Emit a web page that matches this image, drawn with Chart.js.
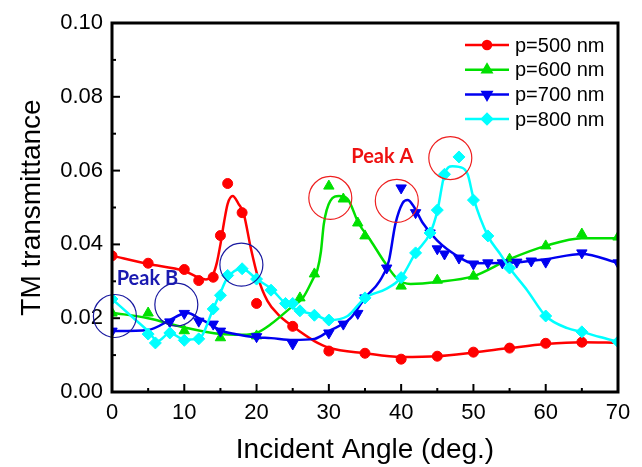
<!DOCTYPE html>
<html>
<head>
<meta charset="utf-8">
<script src="https://cdn.jsdelivr.net/npm/chart.js@4.4.0/dist/chart.umd.min.js"></script>
<style>
html, body { margin: 0; padding: 0; background: #fff; }
#wrap { width: 642px; height: 467px; }
</style>
</head>
<body>
<div id="wrap"><canvas id="myChart" width="642" height="467"></canvas></div>
<script>
'use strict'

// measured points (markers)
const ang500 = [0, 5, 10, 12, 14, 15, 16, 18, 20, 25, 30, 35, 40, 45, 50, 55, 60, 65];
const tm500 = [0.0369, 0.0349, 0.0332, 0.0302, 0.0311, 0.0424, 0.0565, 0.0486, 0.024, 0.0178, 0.0111, 0.0105, 0.0089, 0.0097, 0.0108, 0.0119, 0.0132, 0.0135];

const ang600 = [0, 5, 10, 15, 20, 26, 28, 30, 32, 34, 35, 40, 45, 50, 55, 60, 65, 70];
const tm600 = [0.0214, 0.0214, 0.0166, 0.0147, 0.0152, 0.0255, 0.032, 0.0558, 0.0523, 0.0458, 0.0423, 0.0287, 0.0303, 0.0314, 0.036, 0.0396, 0.0428, 0.042];

const ang700 = [0, 8, 10, 12, 14, 15, 20, 25, 30, 32, 34, 35, 38, 40, 42, 44, 45, 46, 48, 50, 52, 54, 56, 58, 60, 65, 70];
const tm700 = [0.0165, 0.019, 0.0213, 0.0192, 0.0184, 0.0165, 0.015, 0.013, 0.016, 0.0184, 0.0213, 0.0255, 0.0336, 0.0553, 0.0486, 0.0431, 0.0388, 0.0374, 0.0363, 0.0347, 0.035, 0.035, 0.0352, 0.0355, 0.0352, 0.0377, 0.035];

const ang800 = [0, 5, 6, 8, 10, 12, 14, 15, 16, 18, 20, 22, 24, 25, 26, 28, 30, 35, 40, 42, 44, 45, 46, 48, 50, 52, 55, 60, 65, 70];
const tm800 = [0.0252, 0.0157, 0.0133, 0.016, 0.014, 0.0144, 0.0225, 0.0262, 0.0316, 0.0334, 0.0306, 0.0276, 0.024, 0.024, 0.022, 0.0208, 0.0195, 0.0255, 0.031, 0.0377, 0.0431, 0.0493, 0.059, 0.0637, 0.052, 0.0423, 0.0336, 0.0206, 0.0163, 0.0136];

// fitted curves
const fitAng500 = [0, 5, 10, 12, 13, 14, 14.5, 15, 15.5, 16, 16.7, 17.5, 18.2, 19.2, 20.2, 21.5, 23, 25, 28, 30, 35, 40, 45, 50, 55, 60, 65, 70];
const fit500 = [0.0369, 0.0347, 0.0328, 0.031, 0.0305, 0.032, 0.035, 0.040, 0.046, 0.051, 0.0531, 0.051, 0.0485, 0.039, 0.031, 0.0247, 0.021, 0.0178, 0.0138, 0.012, 0.0105, 0.0095, 0.0097, 0.0107, 0.0119, 0.013, 0.0135, 0.0133];

const fitAng600 = [0, 5, 10, 15, 18, 20, 22, 24.7, 26.4, 27.9, 28.4, 28.9, 29.3, 30.2, 31.4, 32.6, 34.1, 35.8, 37.6, 39.5, 41.3, 45, 50, 55, 60, 65, 70];
const fit600 = [0.0215, 0.020, 0.0175, 0.0157, 0.0155, 0.016, 0.0184, 0.0228, 0.0255, 0.031, 0.033, 0.038, 0.0455, 0.0518, 0.0531, 0.0523, 0.0458, 0.041, 0.0355, 0.0306, 0.0293, 0.0298, 0.0314, 0.036, 0.0396, 0.0417, 0.0417];

const fitAng700 = [0, 5, 8, 9.5, 10.5, 12, 13, 15, 17, 20, 22, 25, 28, 30, 33, 35, 37, 38.3, 39.2, 40.2, 40.9, 41.7, 43, 45, 47.8, 50, 55, 60, 65, 70];
const fit700 = [0.0165, 0.0168, 0.0195, 0.021, 0.0214, 0.020, 0.019, 0.0167, 0.0157, 0.0148, 0.0146, 0.0141, 0.0144, 0.0165, 0.020, 0.0255, 0.030, 0.0355, 0.0455, 0.0512, 0.052, 0.0504, 0.0458, 0.041, 0.0368, 0.0349, 0.035, 0.036, 0.0374, 0.035];

const fitAng800 = [0, 3, 5, 6.3, 8, 10, 12, 14, 15, 16, 18, 20, 22, 24, 26, 28, 30, 32.6, 35, 38, 40, 42, 44, 45, 46, 47.1, 48, 49.2, 50, 52, 53.7, 55, 57.5, 60, 63, 65, 67.5, 70];
const fit800 = [0.0252, 0.020, 0.0165, 0.0138, 0.016, 0.0142, 0.0144, 0.0225, 0.027, 0.031, 0.0334, 0.0306, 0.028, 0.024, 0.022, 0.021, 0.0195, 0.0206, 0.0255, 0.028, 0.031, 0.0377, 0.043, 0.049, 0.059, 0.0612, 0.061, 0.059, 0.0526, 0.0423, 0.0374, 0.0336, 0.0274, 0.0206, 0.0173, 0.0163, 0.0149, 0.0136];

// circled peaks
const peakBAng = [0.4, 8.9, 17.9];
const peakBTm = [0.0206, 0.0237, 0.0345];
const peakAAng = [30.2, 39.4, 46.8];
const peakATm = [0.0526, 0.0518, 0.0634];

const seriesNames = ['p=500 nm', 'p=600 nm', 'p=700 nm', 'p=800 nm'];
const xTickLabels = [0, 10, 20, 30, 40, 50, 60, 70];
const yTickLabels = ['0.00', '0.02', '0.04', '0.06', '0.08', '0.10'];

const colors = ['#ff0000', '#00e000', '#0000f0', '#00ffff'];
const shapes = [
  { style: 'circle', rot: 0, r: 5 },
  { style: 'triangle', rot: 0, r: 6 },
  { style: 'triangle', rot: 180, r: 6 },
  { style: 'rectRot', rot: 0, r: 6 }
];
const FONT = "'Liberation Sans', Arial, sans-serif";

function pairs(xs, ys) {
  return xs.map((x, i) => ({ x: x, y: ys[i] }));
}

const markAng = [ang500, ang600, ang700, ang800];
const markTm = [tm500, tm600, tm700, tm800];
const fitAng = [fitAng500, fitAng600, fitAng700, fitAng800];
const fitTm = [fit500, fit600, fit700, fit800];

let datasets = [];
for (let i = 0; i < 4; i++) {
  datasets.push({
    label: seriesNames[i],
    data: pairs(fitAng[i], fitTm[i]),
    showLine: true,
    borderColor: colors[i],
    borderWidth: 2.5,
    pointRadius: 0,
    cubicInterpolationMode: 'monotone',
    order: 20 - i * 2
  });
  datasets.push({
    label: seriesNames[i] + ' pts',
    data: pairs(markAng[i], markTm[i]),
    showLine: false,
    backgroundColor: colors[i],
    borderColor: colors[i],
    borderWidth: 1,
    pointStyle: shapes[i].style,
    rotation: shapes[i].rot,
    pointRadius: shapes[i].r,
    clip: 0,
    order: 19 - i * 2
  });
}
datasets.push({
  label: 'peak B',
  data: pairs(peakBAng, peakBTm),
  showLine: false,
  backgroundColor: 'rgba(0,0,0,0)',
  borderColor: '#1a1aa0',
  borderWidth: 1.2,
  pointRadius: 21.5,
  clip: false,
  order: 1
});
datasets.push({
  label: 'peak A',
  data: pairs(peakAAng, peakATm),
  showLine: false,
  backgroundColor: 'rgba(0,0,0,0)',
  borderColor: '#ee2020',
  borderWidth: 1.2,
  pointRadius: 21.5,
  clip: false,
  order: 0
});

// frame, inward ticks, legend, peak labels
const decor = {
  id: 'decor',
  afterDraw(chart) {
    const ctx = chart.ctx;
    const a = chart.chartArea;
    const xs = chart.scales.x;
    const ys = chart.scales.y;
    ctx.save();
    ctx.strokeStyle = '#000';
    ctx.lineWidth = 2;
    xs.ticks.forEach(t => {
      const px = xs.getPixelForValue(t.value);
      const len = t.label !== '' ? 8 : 4;
      ctx.beginPath();
      ctx.moveTo(px, a.bottom);
      ctx.lineTo(px, a.bottom - len);
      ctx.stroke();
    });
    ys.ticks.forEach(t => {
      const py = ys.getPixelForValue(t.value);
      const len = t.label !== '' ? 8 : 4;
      ctx.beginPath();
      ctx.moveTo(a.left, py);
      ctx.lineTo(a.left + len, py);
      ctx.stroke();
    });
    ctx.lineWidth = 3;
    ctx.strokeRect(a.left, a.top, a.right - a.left, a.bottom - a.top);

    // legend
    ctx.font = '20px ' + FONT;
    ctx.textBaseline = 'middle';
    ctx.textAlign = 'left';
    for (let i = 0; i < 4; i++) {
      const y = 45 + i * 24.7;
      ctx.strokeStyle = colors[i];
      ctx.fillStyle = colors[i];
      ctx.lineWidth = 2.5;
      ctx.beginPath();
      ctx.moveTo(465, y);
      ctx.lineTo(509, y);
      ctx.stroke();
      Chart.helpers.drawPoint(ctx, { pointStyle: shapes[i].style, rotation: shapes[i].rot, radius: shapes[i].r - 1, borderWidth: 1 }, 487, y);
      ctx.fillStyle = '#000';
      ctx.fillText(seriesNames[i], 515, y + 1);
    }

    // peak labels
    ctx.font = "bold 20px Lato, 'Noto Sans', sans-serif";
    ctx.textAlign = 'center';
    ctx.fillStyle = '#ee1111';
    ctx.fillText('Peak A', xs.getPixelForValue(37.4), ys.getPixelForValue(0.0637));
    ctx.fillStyle = '#1a1ab0';
    ctx.fillText('Peak B', xs.getPixelForValue(4.9), ys.getPixelForValue(0.0307));
    ctx.restore();
  }
};

const ctx = document.getElementById('myChart').getContext('2d');
const myChart = new Chart(ctx, {
  type: 'scatter',
  data: { datasets: datasets },
  options: {
    responsive: false,
    animation: false,
    devicePixelRatio: 1,
    events: [],
    layout: { padding: { top: 23, right: 24, bottom: 0, left: 0 } },
    plugins: { legend: { display: false }, tooltip: { enabled: false } },
    scales: {
      x: {
        type: 'linear',
        min: 0,
        max: 70,
        afterFit(scale) { scale.height = 75; },
        grid: { display: false, drawTicks: false },
        border: { display: false },
        ticks: {
          stepSize: 5,
          autoSkip: false,
          maxRotation: 0,
          padding: 8,
          color: '#000',
          font: { family: FONT, size: 22 },
          callback: v => xTickLabels.includes(v) ? String(v) : ''
        },
        title: {
          display: true,
          text: 'Incident Angle (deg.)',
          color: '#000',
          font: { family: FONT, size: 28 },
          padding: { top: 0, bottom: 0 }
        }
      },
      y: {
        type: 'linear',
        min: 0,
        max: 0.1,
        afterFit(scale) { scale.width = 112; },
        grid: { display: false, drawTicks: false },
        border: { display: false },
        ticks: {
          stepSize: 0.01,
          autoSkip: false,
          padding: 9,
          color: '#000',
          font: { family: FONT, size: 22 },
          callback: v => {
            const s = v.toFixed(2);
            return yTickLabels.includes(s) ? s : '';
          }
        },
        title: {
          display: true,
          text: 'TM transmittance',
          color: '#000',
          font: { family: FONT, size: 28 },
          padding: { top: 15, bottom: 0 }
        }
      }
    }
  },
  plugins: [decor]
});
</script>
</body>
</html>
